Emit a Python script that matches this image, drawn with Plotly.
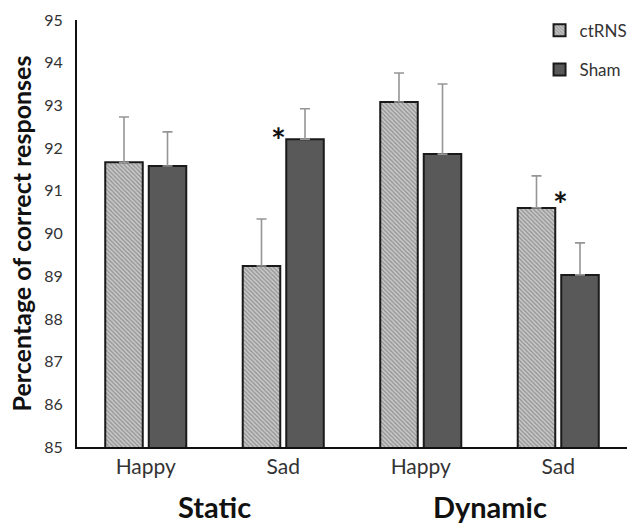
import plotly.graph_objects as go

categories = ["Happy", "Sad", "Happy", "Sad"]
groups = ["Static", "Dynamic"]
ctrns_vals = [91.67, 89.24, 93.08, 90.60]
ctrns_err = [1.06, 1.10, 0.68, 0.75]
sham_vals = [91.58, 92.21, 91.86, 89.03]
sham_err = [0.80, 0.71, 1.64, 0.75]
yticks = [85, 86, 87, 88, 89, 90, 91, 92, 93, 94, 95]

x = list(range(len(categories)))
FONT = "Lato"

fig = go.Figure()
fig.add_trace(go.Bar(
    x=x, y=ctrns_vals, name="ctRNS", legendgroup="a",
    marker=dict(color="#b0b0b0", line=dict(color="#1a1a1a", width=2),
                pattern=dict(shape="\\", fgcolor="#5a5a5a", bgcolor="#c8c8c8", size=3, solidity=0.42)),
    error_y=dict(type="data", array=ctrns_err, arrayminus=[0]*4, symmetric=False,
                 color="#959595", thickness=1.6, width=5),
))
fig.add_trace(go.Bar(
    x=x, y=sham_vals, name="Sham", legendgroup="b",
    marker=dict(color="#595959", line=dict(color="#1a1a1a", width=2)),
    error_y=dict(type="data", array=sham_err, arrayminus=[0]*4, symmetric=False,
                 color="#959595", thickness=1.6, width=5),
))

fig.update_layout(
    width=627, height=524,
    margin=dict(l=77, r=0, t=20, b=77, autoexpand=False),
    paper_bgcolor="white", plot_bgcolor="white",
    barmode="group", bargap=0.367, bargroupgap=0.138,
    font=dict(family=FONT, color="#333333"),
    legend=dict(x=0.841, y=1.017, xanchor="left", yanchor="top",
                font=dict(size=17, color="#333333", family=FONT),
                tracegroupgap=14, bgcolor="rgba(0,0,0,0)", itemwidth=30),
    showlegend=True,
)
fig.update_xaxes(
    range=[-0.5, 3.5], tickvals=x, ticktext=categories,
    showline=True, linecolor="#111111", linewidth=2, ticks="",
    tickfont=dict(size=21, color="#333333", family=FONT), showgrid=False, zeroline=False,
)
fig.update_yaxes(
    range=[85, 95], tickvals=yticks, showline=True, linecolor="#111111", linewidth=2,
    ticks="", showgrid=False, zeroline=False, ticklabelstandoff=9,
    tickfont=dict(size=16, color="#333333", family=FONT),
    title=dict(text="<b>Percentage of correct responses</b>", font=dict(size=25, color="#111111", family=FONT), standoff=5),
)

for gi, g in enumerate(groups):
    fig.add_annotation(x=0.5 + 2 * gi, y=0, xref="x", yref="paper", yshift=-59,
                       text="<b>" + g + "</b>", showarrow=False,
                       font=dict(size=29, color="#111111", family=FONT), yanchor="middle")

fig.add_annotation(x=1, y=sham_vals[1], xref="x", yref="y", xshift=-5, yshift=0,
                   text="<b>*</b>", showarrow=False, font=dict(size=35, color="#111111", family=FONT),
                   yanchor="middle")
fig.add_annotation(x=3, y=ctrns_vals[3], xref="x", yref="y", xshift=2, yshift=5,
                   text="<b>*</b>", showarrow=False, font=dict(size=35, color="#111111", family=FONT),
                   yanchor="middle")

fig.write_html("out.html", config={"displayModeBar": False},
               post_script="document.body.style.margin='0';")
